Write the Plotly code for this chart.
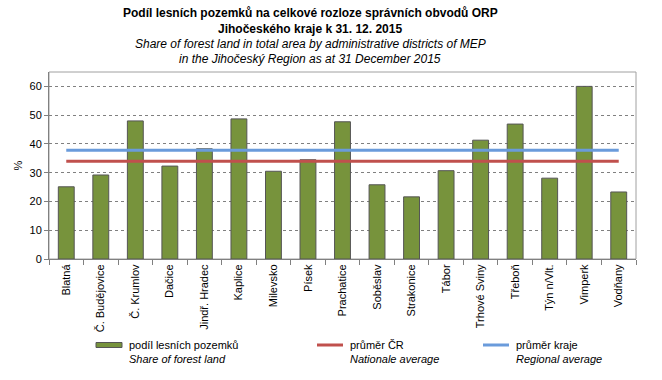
import plotly.graph_objects as go

categories = ["Blatná", "Č. Budějovice", "Č. Krumlov", "Dačice", "Jindř. Hradec", "Kaplice",
              "Milevsko", "Písek", "Prachatice", "Soběslav", "Strakonice", "Tábor",
              "Trhové Sviny", "Třeboň", "Týn n/Vlt.", "Vimperk", "Vodňany"]
forest_share = [25.1, 29.2, 48.0, 32.3, 38.3, 48.7, 30.5, 34.5, 47.7, 25.8, 21.6, 30.7,
                41.3, 46.9, 28.1, 60.0, 23.3]
national_avg = 34.0
regional_avg = 37.8
y_ticks = [0, 10, 20, 30, 40, 50, 60]

GREEN = "#77933C"
RED = "#C0504D"
BLUE = "#6A9BDB"
FONT = "Liberation Sans, Arial, sans-serif"

fig = go.Figure()
fig.add_trace(go.Bar(x=categories, y=forest_share, marker=dict(color=GREEN, line=dict(color="#555555", width=1)),
                     width=0.46, showlegend=False))
fig.add_trace(go.Scatter(x=[categories[0], categories[-1]], y=[national_avg, national_avg], mode="lines",
                         line=dict(color=RED, width=3), showlegend=False))
fig.add_trace(go.Scatter(x=[categories[0], categories[-1]], y=[regional_avg, regional_avg], mode="lines",
                         line=dict(color=BLUE, width=3), showlegend=False))

fig.update_layout(
    width=662, height=380,
    margin=dict(l=49, r=26, t=72, b=121),
    paper_bgcolor="white", plot_bgcolor="white",
    font=dict(family=FONT, size=11, color="black"),
    xaxis=dict(type="category", tickangle=-90, tickson="boundaries", ticks="outside", ticklen=5,
               tickcolor="#808080", showline=True, linecolor="#808080", linewidth=1, mirror=False,
               tickfont=dict(size=11), showgrid=False, automargin=False),
    yaxis=dict(range=[0, 65], tickvals=y_ticks, ticks="outside", ticklen=4, tickcolor="#808080",
               showline=True, linecolor="#808080", linewidth=1, showgrid=True, gridcolor="#808080",
               griddash="dot", gridwidth=1, zeroline=False, tickfont=dict(size=11), automargin=False,
               title=dict(text="%", font=dict(size=11), standoff=4)),
    shapes=[dict(type="rect", xref="paper", yref="paper", x0=0, x1=1, y0=0, y1=1,
                 line=dict(color="#A0A0A0", width=1), layer="below")],
)

title_lines = [
    ("<b>Podíl lesních pozemků na celkové rozloze správních obvodů ORP</b>", 13),
    ("<b>Jihočeského kraje k 31. 12. 2015</b>", 29),
    ("<i>Share of forest land in total area by administrative districts of MEP</i>", 44),
    ("<i>in the Jihočeský Region as at 31 December 2015</i>", 59),
]
for text, ypx in title_lines:
    fig.add_annotation(text=text, xref="paper", yref="paper", x=(310 - 49) / 587,
                       y=(380 - 121 - ypx) / 187, xanchor="center", yanchor="middle",
                       showarrow=False, font=dict(size=12, family=FONT))

legend_items = [
    ("podíl lesních pozemků", "Share of forest land", GREEN, 96, 122, 6),
    ("průměr ČR", "Nationale average", RED, 317, 343, 3),
    ("průměr kraje", "Regional average", BLUE, 483, 509, 3),
]
for t1, t2, col, x0, x1, w in legend_items:
    px0 = (x0 - 49) / 587
    px1 = (x1 - 49) / 587
    py = (259 - 345) / 187
    if w > 3:
        fig.add_shape(type="rect", xref="paper", yref="paper", x0=px0, x1=px1,
                      y0=(259 - 347.5) / 187, y1=(259 - 342.5) / 187,
                      fillcolor=col, line=dict(color="#555555", width=1))
    else:
        fig.add_shape(type="line", xref="paper", yref="paper", x0=px0, x1=px1, y0=py, y1=py,
                      line=dict(color=col, width=w))
    fig.add_annotation(text=t1, xref="paper", yref="paper", x=(x1 + 5 - 49) / 587, y=py,
                       xanchor="left", yanchor="middle", showarrow=False, font=dict(size=11))
    fig.add_annotation(text="<i>" + t2 + "</i>", xref="paper", yref="paper", x=(x1 + 5 - 49) / 587,
                       y=(259 - 359) / 187, xanchor="left", yanchor="middle", showarrow=False,
                       font=dict(size=11))

fig.write_html("out.html", post_script="document.body.style.margin='0';",
               config={"displayModeBar": False})
